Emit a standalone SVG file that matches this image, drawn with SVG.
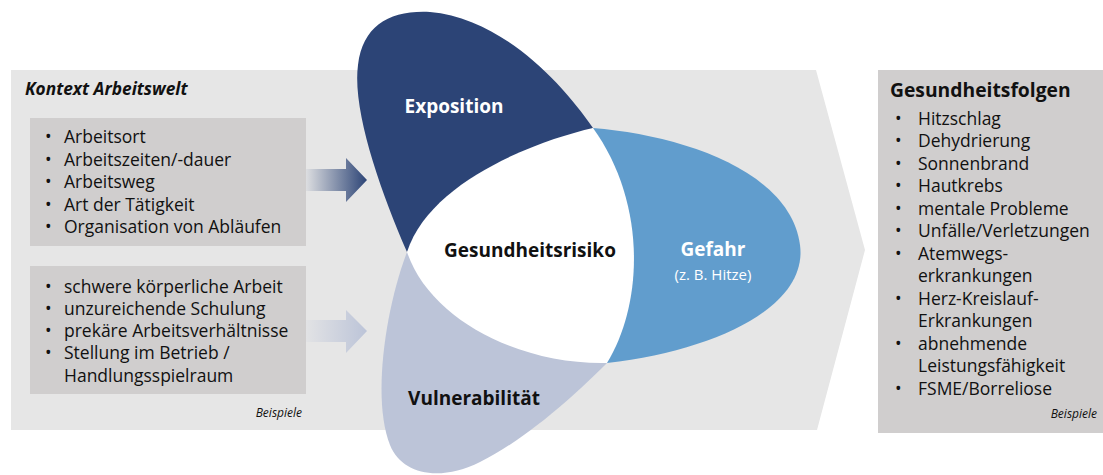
<svg xmlns="http://www.w3.org/2000/svg" width="1103" height="475" viewBox="0 0 1103 475">
<defs>
<linearGradient id="g1" x1="0" y1="0" x2="1" y2="0">
<stop offset="0" stop-color="#2c4476" stop-opacity="0.05"/>
<stop offset="1" stop-color="#2c4476"/>
</linearGradient>
<linearGradient id="g2" x1="0" y1="0" x2="1" y2="0">
<stop offset="0" stop-color="#bcc4d8" stop-opacity="0.1"/>
<stop offset="1" stop-color="#bcc4d8"/>
</linearGradient>
<style>
text{font-family:"Open Sans","Noto Sans","DejaVu Sans",sans-serif;fill:#111}
.li{font-size:17.5px}
.small{font-size:12px;font-style:italic}
.lbl{font-size:19px;font-weight:bold}
.w{fill:#fff}
.box{fill:#d0cece}
</style>
</defs>
<g id="context">
<path d="M11,70 L816,70 L865,250 L817,430 L11,430 Z" fill="#e6e6e6"/>
<text x="25" y="95" style="font-size:17.3px;font-weight:bold;font-style:italic">Kontext Arbeitswelt</text>
</g>
<g id="box1">
<rect x="30" y="118" width="276" height="128" class="box"/>
<text class="li"><tspan x="45" y="143">•</tspan><tspan x="64" y="143">Arbeitsort</tspan><tspan x="45" y="166">•</tspan><tspan x="64" y="166">Arbeitszeiten/-dauer</tspan><tspan x="45" y="188">•</tspan><tspan x="64" y="188">Arbeitsweg</tspan><tspan x="45" y="211">•</tspan><tspan x="64" y="211">Art der Tätigkeit</tspan><tspan x="45" y="233">•</tspan><tspan x="64" y="233">Organisation von Abläufen</tspan></text>
</g>
<g id="box2">
<rect x="30" y="266" width="276" height="128" class="box"/>
<text class="li"><tspan x="45" y="293">•</tspan><tspan x="64" y="293">schwere körperliche Arbeit</tspan><tspan x="45" y="315">•</tspan><tspan x="64" y="315">unzureichende Schulung</tspan><tspan x="45" y="337">•</tspan><tspan x="64" y="337">prekäre Arbeitsverhältnisse</tspan><tspan x="45" y="359">•</tspan><tspan x="64" y="359">Stellung im Betrieb /</tspan><tspan x="64" y="382">Handlungsspielraum</tspan></text>
<text x="302" y="417" class="small" text-anchor="end">Beispiele</text>
</g>
<g id="connectors">
<path d="M306,169 L346,169 L346,158 L367,180 L346,202 L346,191 L306,191 Z" fill="url(#g1)"/>
<path d="M306,320 L346,320 L346,310 L367,331 L346,353 L346,342 L306,342 Z" fill="url(#g2)"/>
</g>
<g id="exposition">
<path d="M407,252 C380,190 352,110 358,65 C363,25 390,10 430,12 C500,18 560,80 593,128 Z" fill="#2c4476"/>
<text x="454" y="113" class="lbl w" text-anchor="middle">Exposition</text>
</g>
<g id="gefahr">
<path d="M593,128 C680,135 790,170 800,245 C808,305 720,350 607,363 Z" fill="#619dcd"/>
</g>
<g id="vulnerabilitaet">
<path d="M407,252 C385,310 372,400 390,445 C402,475 440,482 480,462 C530,437 580,390 607,363 Z" fill="#bcc4d8"/>
</g>
<g id="gesundheitsrisiko">
<path d="M593,128 C540,140 430,180 407,252 C430,320 520,365 607,363 C645,300 645,200 593,128 Z" fill="#fff"/>
<text x="530" y="257" class="lbl" text-anchor="middle">Gesundheitsrisiko</text>
</g>
<g id="gefahr-label">
<text x="713" y="256" class="lbl w" text-anchor="middle">Gefahr</text>
<text x="713" y="280" class="w" style="font-size:15px" text-anchor="middle">(z. B. Hitze)</text>
</g>
<g id="vuln-label">
<text x="474" y="405" class="lbl" text-anchor="middle">Vulnerabilität</text>
</g>
<g id="gesundheitsfolgen">
<rect x="878" y="70" width="225" height="363" class="box"/>
<text x="890" y="97" style="font-size:19.3px;font-weight:bold">Gesundheitsfolgen</text>
<text class="li"><tspan x="895" y="125">•</tspan><tspan x="918" y="125">Hitzschlag</tspan><tspan x="895" y="147">•</tspan><tspan x="918" y="147">Dehydrierung</tspan><tspan x="895" y="170">•</tspan><tspan x="918" y="170">Sonnenbrand</tspan><tspan x="895" y="192">•</tspan><tspan x="918" y="192">Hautkrebs</tspan><tspan x="895" y="215">•</tspan><tspan x="918" y="215">mentale Probleme</tspan><tspan x="895" y="237">•</tspan><tspan x="918" y="237">Unfälle/Verletzungen</tspan><tspan x="895" y="260">•</tspan><tspan x="918" y="260">Atemwegs-</tspan><tspan x="918" y="282">erkrankungen</tspan><tspan x="895" y="305">•</tspan><tspan x="918" y="305">Herz-Kreislauf-</tspan><tspan x="918" y="327">Erkrankungen</tspan><tspan x="895" y="350">•</tspan><tspan x="918" y="350">abnehmende</tspan><tspan x="918" y="372">Leistungsfähigkeit</tspan><tspan x="895" y="395">•</tspan><tspan x="918" y="395">FSME/Borreliose</tspan></text>
<text x="1097" y="418" class="small" text-anchor="end">Beispiele</text>
</g>
</svg>
